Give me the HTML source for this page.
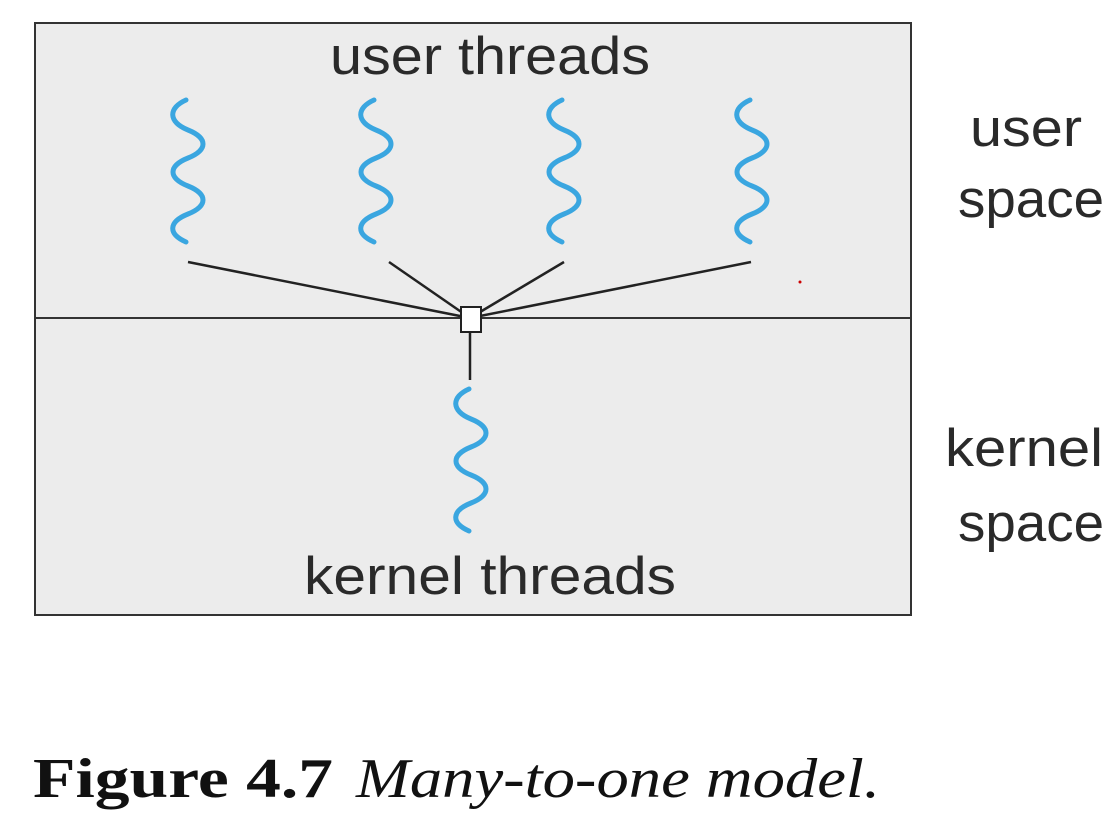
<!DOCTYPE html>
<html><head><meta charset="utf-8"><style>html,body{margin:0;padding:0;background:#fff}</style></head>
<body>
<svg width="1118" height="822" viewBox="0 0 1118 822" xmlns="http://www.w3.org/2000/svg">
<defs>
<path id="sq" d="M 186 100 C 168 108,168 122,188 130 S 208 150,188 158 S 168 178,188 186 S 208 206,188 214 S 168 234,186 242" fill="none" stroke="#3aa6e0" stroke-width="5" stroke-linecap="round"/>
</defs>
<rect x="35" y="23" width="876" height="592" fill="#ececec" stroke="#333" stroke-width="2"/>
<line x1="35" y1="318" x2="911" y2="318" stroke="#333" stroke-width="2"/>
<use href="#sq"/>
<use href="#sq" transform="translate(188,0)"/>
<use href="#sq" transform="translate(376,0)"/>
<use href="#sq" transform="translate(564,0)"/>
<use href="#sq" transform="translate(283,289)"/>
<g stroke="#222" stroke-width="2.5">
<line x1="188" y1="262" x2="470" y2="318"/>
<line x1="389" y1="262" x2="470" y2="318"/>
<line x1="564" y1="262" x2="470" y2="318"/>
<line x1="751" y1="262" x2="470" y2="318"/>
<line x1="470" y1="330" x2="470" y2="380"/>
</g>
<rect x="461" y="307" width="20" height="25" fill="#fff" stroke="#222" stroke-width="2"/>
<circle cx="800" cy="282" r="1.5" fill="#c00"/>
<g font-family="Liberation Sans, sans-serif" font-size="53" fill="#2a2a2a">
<text x="330" y="74" textLength="320" lengthAdjust="spacingAndGlyphs">user threads</text>
<text x="304" y="594" textLength="372" lengthAdjust="spacingAndGlyphs">kernel threads</text>
<text x="970" y="146" textLength="112" lengthAdjust="spacingAndGlyphs">user</text>
<text x="958" y="217" textLength="146" lengthAdjust="spacingAndGlyphs">space</text>
<text x="945" y="466" textLength="158" lengthAdjust="spacingAndGlyphs">kernel</text>
<text x="958" y="541" textLength="146" lengthAdjust="spacingAndGlyphs">space</text>
</g>
<g font-family="Liberation Serif, serif" font-size="56" fill="#111">
<text x="33" y="797" font-weight="bold" textLength="300" lengthAdjust="spacingAndGlyphs">Figure 4.7</text>
<text x="356" y="797" font-style="italic" textLength="524" lengthAdjust="spacingAndGlyphs">Many-to-one model.</text>
</g>
</svg>
</body></html>
